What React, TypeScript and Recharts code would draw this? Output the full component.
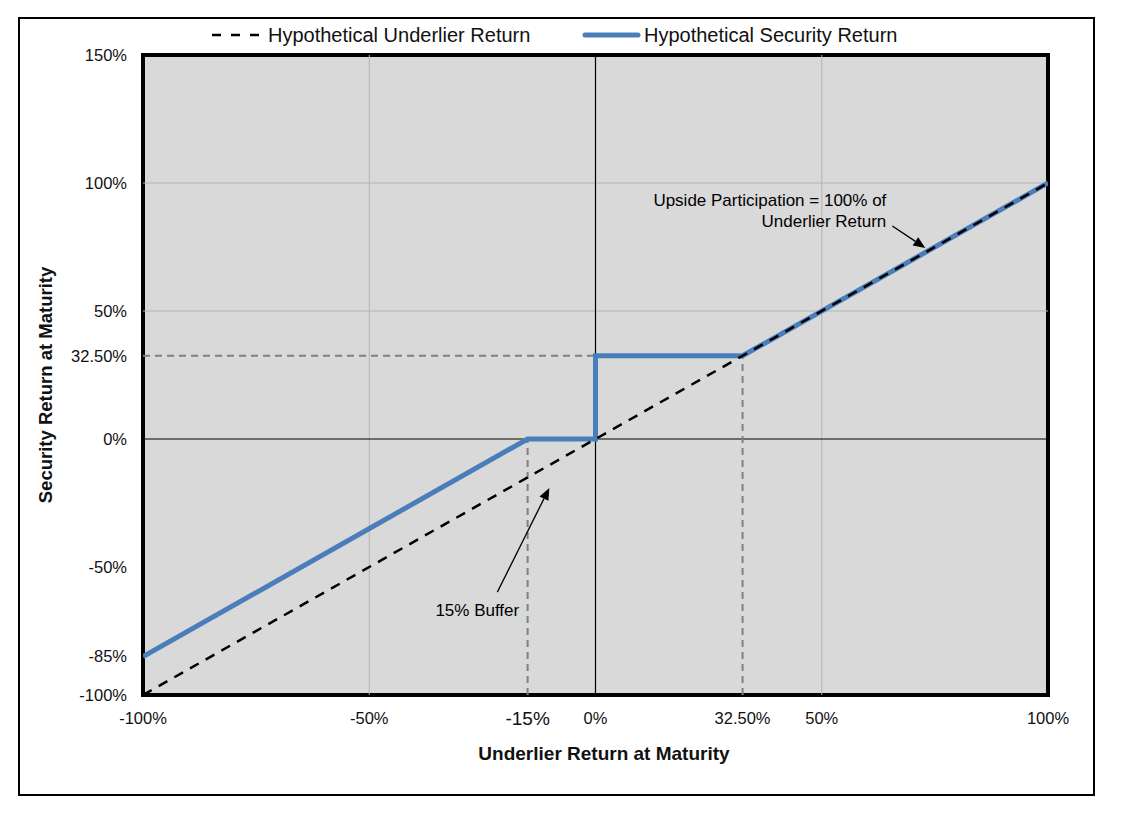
import React from "react";
import { ComposedChart, Line, XAxis, YAxis, CartesianGrid, ReferenceLine, ReferenceArea } from "recharts";

const xTicks = [-100, -50, -15, 0, 32.5, 50, 100];
const yTicks = [-100, -85, -50, 0, 32.5, 50, 100, 150];
const gridX = [-50, 50];
const gridY = [50, 100];
const underlierX = [-100, 100];
const underlierY = [-100, 100];
const securityX = [-100, -15, 0, 0, 32.5, 100];
const securityY = [-85, 0, 0, 32.5, 32.5, 100];
const bufferLevel = -15;
const capLevel = 32.5;

const underlierData = underlierX.map((x, i) => ({ x, underlier: underlierY[i] }));
const securityData = securityX.map((x, i) => ({ x, security: securityY[i] }));

const FONT = "'Liberation Sans', Arial, sans-serif";
const BLUE = "#4a7ebb";

const fmt = (v: number) => (v === 32.5 ? "32.50%" : `${v}%`);

const XTick = (p: any) => {
  const { x, y, payload } = p;
  const big = payload.value === bufferLevel;
  return (
    <text x={x} y={y} dy="0.71em" textAnchor="middle" fontSize={big ? 19 : 16.5} fontFamily={FONT} fill="#111">
      {fmt(payload.value)}
    </text>
  );
};

const YTick = (p: any) => {
  const { x, y, payload } = p;
  return (
    <text x={x} y={y} dy="0.355em" textAnchor="end" fontSize={16.5} fontFamily={FONT} fill="#111">
      {fmt(payload.value)}
    </text>
  );
};

// axis titles sit at fixed spots like the original sheet
const XTitle = () => (
  <text x={604} y={753} dy="0.355em" textAnchor="middle" fontSize={19} fontWeight="bold" fontFamily={FONT} fill="#111">
    Underlier Return at Maturity
  </text>
);

const YTitle = () => (
  <text x={45} y={385} dy="0.355em" textAnchor="middle" fontSize={18.5} fontWeight="bold" fontFamily={FONT} fill="#111" transform="rotate(-90 45 385)">
    Security Return at Maturity
  </text>
);

const makeArrow = (lines: string[], dx: number, dy: number, anchor: string) => (p: any) => {
  const { x1, y1, x2, y2 } = p;
  const ang = Math.atan2(y2 - y1, x2 - x1);
  const L = 12;
  const W = 5;
  const bx = x2 - L * Math.cos(ang);
  const by = y2 - L * Math.sin(ang);
  const pts = `${x2},${y2} ${bx - W * Math.sin(ang)},${by + W * Math.cos(ang)} ${bx + W * Math.sin(ang)},${by - W * Math.cos(ang)}`;
  return (
    <g>
      <line x1={x1} y1={y1} x2={bx} y2={by} stroke="#000" strokeWidth={1.3} />
      <polygon points={pts} fill="#000" />
      {lines.map((t, i) => (
        <text key={i} x={x1 + dx} y={y1 + dy + i * 21} dy="0.355em" textAnchor={anchor} fontSize={17} fontFamily={FONT} fill="#000">
          {t}
        </text>
      ))}
    </g>
  );
};

const UpsideArrow = makeArrow(["Upside Participation = 100% of", "Underlier Return"], -6, -26, "end");
const BufferArrow = makeArrow(["15% Buffer"], -20, 18, "middle");

export default function App() {
  return (
    <div style={{ position: "absolute", left: 0, top: 0, width: 1125, height: 813, background: "#fff" }}>
      <div
        style={{
          position: "absolute",
          left: 18,
          top: 17,
          width: 1073,
          height: 775,
          border: "2px solid #000",
        }}
      />
      <svg style={{ position: "absolute", left: 0, top: 0 }} width={1125} height={50}>
        <line x1={212} y1={35} x2={265} y2={35} stroke="#000" strokeWidth={2.5} strokeDasharray="9 10" />
        <text x={268} y={35} dy="0.355em" fontSize={20} fontFamily={FONT} fill="#111">
          Hypothetical Underlier Return
        </text>
        <line x1={585} y1={35} x2={638} y2={35} stroke={BLUE} strokeWidth={5} strokeLinecap="round" />
        <text x={644} y={35} dy="0.355em" fontSize={20} fontFamily={FONT} fill="#111">
          Hypothetical Security Return
        </text>
      </svg>
      <div style={{ position: "absolute", left: 0, top: 0 }}>
        <ComposedChart width={1125} height={813} margin={{ top: 55, right: 77, bottom: 88, left: 83 }}>
          <CartesianGrid fill="#d9d9d9" horizontal={false} vertical={false} />
          <XAxis
            type="number"
            dataKey="x"
            domain={[-100, 100]}
            ticks={xTicks}
            interval={0}
            allowDataOverflow
            axisLine={false}
            tickLine={false}
            tickSize={0}
            tickMargin={17}
            height={30}
            tick={<XTick />}
            label={<XTitle />}
          />
          <YAxis
            type="number"
            domain={[-100, 150]}
            ticks={yTicks}
            interval={0}
            allowDataOverflow
            axisLine={false}
            tickLine={false}
            tickSize={0}
            tickMargin={16}
            width={60}
            tick={<YTick />}
            label={<YTitle />}
          />
          {gridX.map((v) => (
            <ReferenceLine key={`gx${v}`} x={v} stroke="#b4b4b4" strokeWidth={1} />
          ))}
          {gridY.map((v) => (
            <ReferenceLine key={`gy${v}`} y={v} stroke="#b4b4b4" strokeWidth={1} />
          ))}
          <ReferenceLine x={0} stroke="#000" strokeWidth={1.2} />
          <ReferenceLine y={0} stroke="#000" strokeWidth={1.2} />
          <ReferenceLine
            segment={[{ x: -100, y: capLevel }, { x: 0, y: capLevel }]}
            stroke="#808080"
            strokeWidth={2}
            strokeDasharray="7 5"
          />
          <ReferenceLine
            segment={[{ x: bufferLevel, y: -100 }, { x: bufferLevel, y: 0 }]}
            stroke="#808080"
            strokeWidth={2}
            strokeDasharray="7 5"
          />
          <ReferenceLine
            segment={[{ x: capLevel, y: -100 }, { x: capLevel, y: capLevel }]}
            stroke="#808080"
            strokeWidth={2}
            strokeDasharray="7 5"
          />
          <Line
            data={securityData}
            dataKey="security"
            name="Hypothetical Security Return"
            type="linear"
            stroke={BLUE}
            strokeWidth={5}
            dot={false}
            activeDot={false}
            isAnimationActive={false}
          />
          <Line
            data={underlierData}
            dataKey="underlier"
            name="Hypothetical Underlier Return"
            type="linear"
            stroke="#000"
            strokeWidth={2.5}
            strokeDasharray="10 8"
            dot={false}
            activeDot={false}
            isAnimationActive={false}
          />
          <ReferenceLine segment={[{ x: 65.6, y: 83.2 }, { x: 72.9, y: 74.6 }]} shape={UpsideArrow} />
          <ReferenceLine segment={[{ x: -21.7, y: -59.8 }, { x: -10.2, y: -19.1 }]} shape={BufferArrow} />
          <ReferenceArea x1={-100} x2={100} y1={-100} y2={150} fill="none" fillOpacity={0} stroke="#000" strokeWidth={4} />
        </ComposedChart>
      </div>
    </div>
  );
}
